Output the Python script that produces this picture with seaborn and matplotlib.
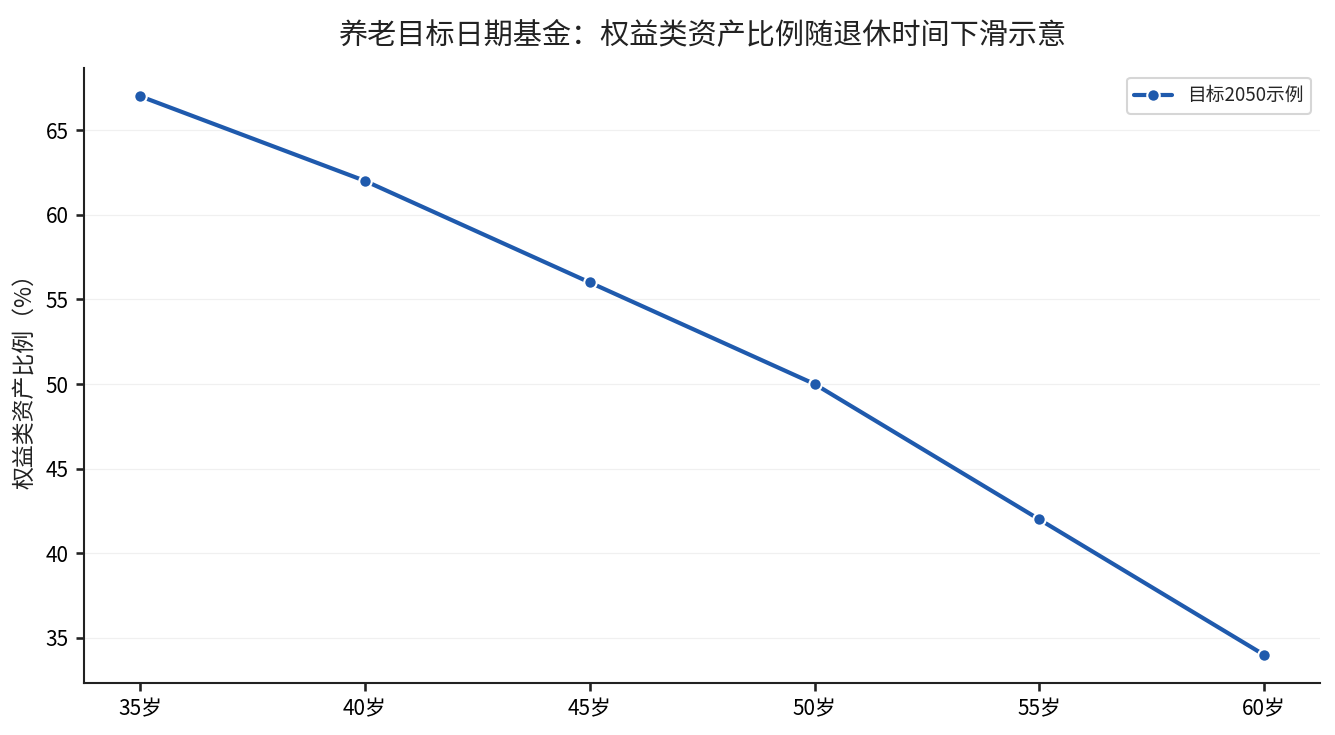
import matplotlib
matplotlib.use("Agg")
from matplotlib import pyplot as plt
import pandas as pd
import seaborn as sns

ages = ["35岁", "40岁", "45岁", "50岁", "55岁", "60岁"]
equity_pct = [67, 62, 56, 50, 42, 34]
series_name = "目标2050示例"

sns.set_theme(style="white")
plt.rcParams["font.family"] = ["Noto Sans CJK SC", "DejaVu Sans"]
plt.rcParams["axes.unicode_minus"] = False

df = pd.DataFrame({"age": ages, "pct": equity_pct, "series": series_name})

fig, ax = plt.subplots(figsize=(8.9, 4.9), dpi=150)
sns.lineplot(data=df, x="age", y="pct", hue="series", palette=["#1f5aad"],
             marker="o", markersize=6, markeredgecolor="white", markeredgewidth=1,
             linewidth=2, ax=ax)

ax.set_title("养老目标日期基金：权益类资产比例随退休时间下滑示意", fontsize=14, pad=12,
             color="#222222")
ax.set_xlabel("")
ax.set_ylabel("权益类资产比例（%）", fontsize=11, color="#222222")
ax.tick_params(axis="both", labelsize=10, length=4, left=True, bottom=True,
               labelcolor="black", color="#222222")
ax.yaxis.grid(True, color="#f0f0f0", linewidth=0.6)
ax.set_axisbelow(True)
sns.despine(ax=ax)
for s in ["left", "bottom"]:
    ax.spines[s].set_color("#222222")
    ax.spines[s].set_linewidth(1)

leg = ax.legend(loc="upper right", fontsize=9, frameon=True)
leg.get_frame().set_edgecolor("#cccccc")

fig.subplots_adjust(left=0.063, right=0.989, top=0.907, bottom=0.071)
fig.savefig("out.png", dpi=150)
